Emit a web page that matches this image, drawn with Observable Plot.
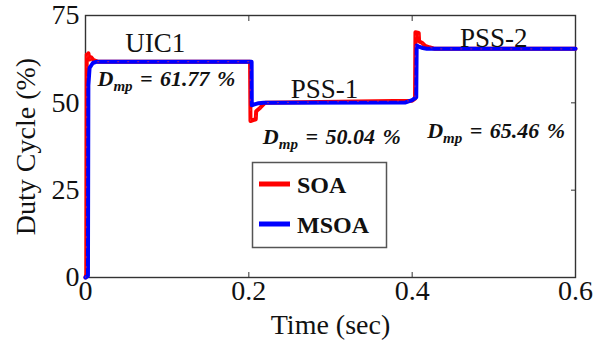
<!DOCTYPE html>
<html>
<head>
<meta charset="utf-8">
<script src="https://cdn.jsdelivr.net/npm/d3@7"></script>
<script src="https://cdn.jsdelivr.net/npm/@observablehq/plot@0.6"></script>
<style>
  body { margin: 0; background: #fff; }
  #chart svg { font-family: "Liberation Serif", "Times New Roman", serif; }
</style>
</head>
<body>
<div id="chart"></div>
<script>
// Operating stages and the steady-state duty cycle reached in each
const stageNames = ["UIC1", "PSS-1", "PSS-2"];
const stageStart = [0, 0.2, 0.4];
const stageEnd = [0.2, 0.4, 0.6];
const dmpValues = [61.77, 50.04, 65.46];

// SOA tracker response (time in s, duty cycle in %)
const soaTime = [0, 0.001, 0.0015, 0.0025, 0.0035, 0.005, 0.007, 0.010, 0.015,
  0.2015, 0.202, 0.2085, 0.209, 0.214, 0.220,
  0.400, 0.4035, 0.404, 0.408, 0.4085, 0.412, 0.416, 0.421, 0.428, 0.6];
const soaDuty = [0, 1, 63.8, 62.6, 64.2, 62.4, 63.0, 62.2, 61.77,
  61.77, 44.8, 45.3, 47.6, 48.6, 50.04,
  50.6, 51.2, 70.2, 70.0, 67.6, 67.2, 66.3, 65.9, 65.46, 65.46];

// MSOA tracker response (time in s, duty cycle in %)
const msoaTime = [0, 0.003, 0.0035, 0.005, 0.009, 0.014,
  0.2034, 0.2036, 0.206, 0.212, 0.218,
  0.392, 0.4, 0.405, 0.4055, 0.409, 0.413, 0.418, 0.6];
const msoaDuty = [0, 0.5, 55, 60, 61.4, 61.77,
  61.77, 49.3, 49.5, 49.9, 50.04,
  50.1, 50.8, 51.6, 66.4, 66.0, 65.7, 65.46, 65.46];

// Axis ticks
const xTicks = [0, 0.2, 0.4, 0.6];
const yTicks = [0, 25, 50, 75];

const soa = soaTime.map((t, i) => ({t, d: soaDuty[i]}));
const msoa = msoaTime.map((t, i) => ({t, d: msoaDuty[i]}));
const stages = stageNames.map((name, i) => ({name, start: stageStart[i], end: stageEnd[i], dmp: dmpValues[i]}));

// pixel nudges for the stage names and the Dmp readouts
const nameOffset = [[-12, -10], [-6, -5], [0, -2]];
const dmpOffset = [[12, 24], [14, 41], [15, 89]];

const chart = Plot.plot({
  width: 603,
  height: 342,
  marginLeft: 85,
  marginRight: 28,
  marginTop: 15,
  marginBottom: 65,
  style: {fontFamily: "'Liberation Serif', 'Times New Roman', serif", fontSize: "28px", color: "#111", background: "#fff", overflow: "visible"},
  x: {domain: [0, 0.6]},
  y: {domain: [0, 75]},
  marks: [
    Plot.axisX({ticks: xTicks, tickFormat: d => String(d), tickSize: -5, tickPadding: 8, stroke: "#333",
      label: "Time (sec)", labelAnchor: "center", labelArrow: "none", labelOffset: 56}),
    Plot.axisX({anchor: "top", ticks: xTicks, tickSize: -5, tickFormat: () => "", label: null, stroke: "#333"}),
    Plot.axisY({ticks: yTicks, tickSize: -5, tickPadding: 11, stroke: "#333",
      label: "Duty Cycle (%)", labelAnchor: "center", labelArrow: "none", labelOffset: 70}),
    Plot.axisY({anchor: "right", ticks: yTicks, tickSize: -5, tickFormat: () => "", label: null, stroke: "#333"}),
    Plot.frame({stroke: "#333", strokeWidth: 1.4}),
    Plot.line(soa, {x: "t", y: "d", stroke: "#ff0000", strokeWidth: 4, strokeLinejoin: "round"}),
    Plot.line(msoa, {x: "t", y: "d", stroke: "#0000ff", strokeWidth: 4, strokeLinejoin: "round"}),
    Plot.line(soa, {x: "t", y: "d", stroke: "#ff3030", strokeWidth: 1.2, strokeDasharray: "1 9", strokeOpacity: 0.55}),
    ...stages.map((s, i) => Plot.text([s], {
      x: d => (d.start + d.end) / 2, y: "dmp", text: "name",
      dx: nameOffset[i][0], dy: nameOffset[i][1], lineAnchor: "bottom", fontSize: 27
    })),
    ...stages.map((s, i) => Plot.text([s], {
      x: "start", y: "dmp", text: d => `Dmp = ${d.dmp.toFixed(2)} %`,
      dx: dmpOffset[i][0], dy: dmpOffset[i][1], textAnchor: "start", lineAnchor: "bottom",
      fontSize: 22, fontWeight: "bold", fontStyle: "italic"
    }))
  ]
});

document.getElementById("chart").appendChild(chart);
const svg = d3.select(chart);

// D with subscript "mp"
svg.selectAll("text").each(function () {
  const t = this.textContent;
  if (!t.startsWith("Dmp")) return;
  const el = d3.select(this).text(null).attr("word-spacing", 2);
  el.append("tspan").text("D");
  el.append("tspan").attr("dy", 5).attr("font-size", 15).text("mp");
  el.append("tspan").attr("dy", -5).text(t.slice(3));
});

// Series legend
const legend = svg.append("g").attr("text-anchor", "start");
legend.append("rect").attr("x", 252.5).attr("y", 162.5).attr("width", 134).attr("height", 85)
  .attr("fill", "#fff").attr("stroke", "#555").attr("stroke-width", 1.5);
[["SOA", "#ff0000", 184], ["MSOA", "#0000ff", 224]].forEach(([name, color, y]) => {
  legend.append("line").attr("x1", 259).attr("x2", 290).attr("y1", y).attr("y2", y)
    .attr("stroke", color).attr("stroke-width", 5);
  legend.append("text").attr("x", 297).attr("y", y + 9).attr("font-size", 24)
    .attr("font-weight", "bold").attr("fill", "#111").text(name);
});
</script>
</body>
</html>
